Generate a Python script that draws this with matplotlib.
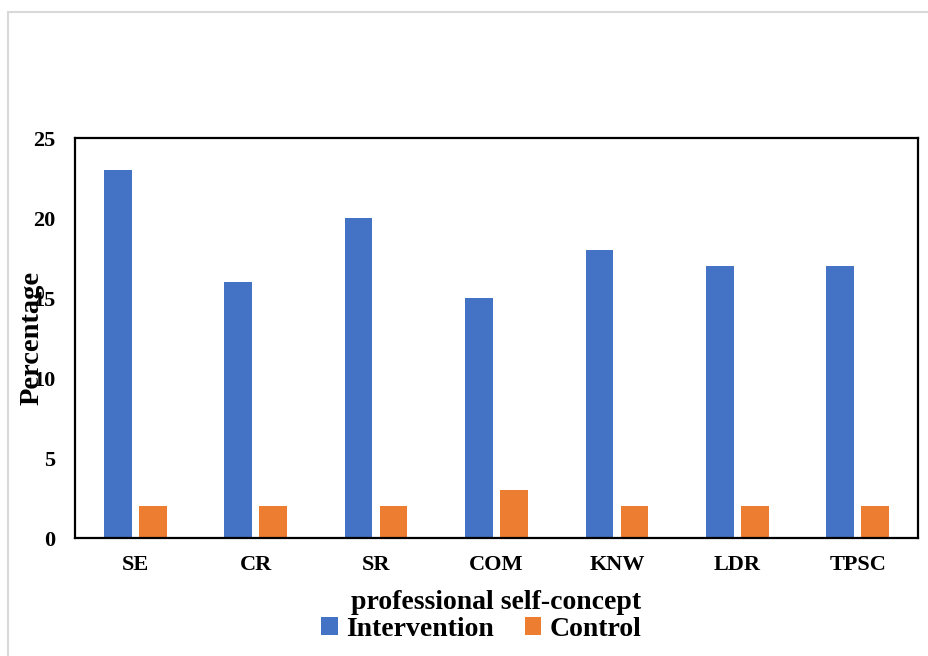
"""
    Grouped bar chart of professional self-concept dimensions
"""
import matplotlib.pyplot as plt
import numpy as np
from matplotlib.patches import Rectangle

categories = ["SE", "CR", "SR", "COM", "KNW", "LDR", "TPSC"]
intervention = [23, 16, 20, 15, 18, 17, 17]
control = [2, 2, 2, 3, 2, 2, 2]
y_ticks = [0, 5, 10, 15, 20, 25]

BLUE = '#4472C4'
ORANGE = '#ED7D31'

plt.rcParams['font.family'] = ['Liberation Serif', 'DejaVu Serif']
plt.rcParams['font.weight'] = 'bold'

fig = plt.figure(figsize=(9.29, 6.56), dpi=100)

# thin grey frame around the chart area
fig.patches.append(Rectangle((8 / 929, -0.05), 1.1, 1 - 12 / 656 + 0.05,
                             transform=fig.transFigure, fill=False,
                             edgecolor='#d9d9d9', linewidth=1.5))

ax = fig.add_axes([75 / 929, 1 - 538 / 656, (918 - 75) / 929, (538 - 138) / 656])

x = np.arange(len(categories))
width = 0.23
ax.bar(x - 0.145, intervention, width, color=BLUE, label='Intervention')
ax.bar(x + 0.145, control, width, color=ORANGE, label='Control')

ax.set_xlim(-0.5, len(categories) - 0.5)
ax.set_ylim(0, 25)
ax.set_yticks(y_ticks)
ax.set_xticks(x)
ax.set_xticklabels(categories)
ax.tick_params(length=0, labelsize=16)
ax.tick_params(axis='y', pad=14)
ax.tick_params(axis='x', pad=12)
for spine in ax.spines.values():
    spine.set_linewidth(1.6)
    spine.set_color('black')

ax.set_xlabel('professional self-concept', fontsize=20, fontweight='bold', labelpad=11)
ax.set_ylabel('Percentage', fontsize=20.5, fontweight='bold')
ax.yaxis.set_label_coords(-0.036, 0.5)

ax.legend(loc='center', bbox_to_anchor=(0.482, -0.228), ncol=2, frameon=False,
          handlelength=0.6, handleheight=0.6, handletextpad=0.3,
          columnspacing=1.1, prop={'weight': 'bold', 'size': 20})

plt.savefig('out.png', dpi=100)
